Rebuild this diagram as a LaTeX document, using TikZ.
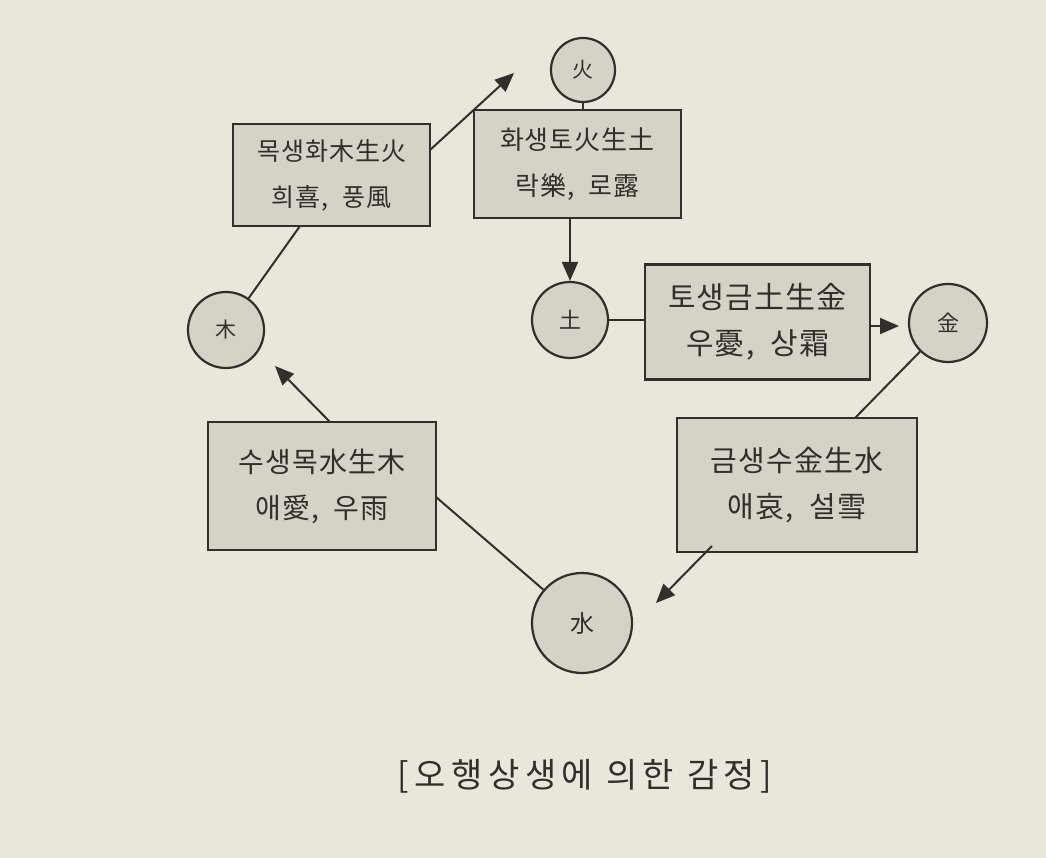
\documentclass[tikz,border=0pt]{standalone}
\usepackage{fontspec}
\setmainfont{Noto Sans CJK KR}
\usetikzlibrary{arrows.meta}
\definecolor{paper}{RGB}{234,230,220}
\definecolor{boxfill}{RGB}{215,210,200}
\definecolor{ink}{RGB}{52,46,42}
\tikzset{
  elem/.style={circle,draw=ink,fill=boxfill,line width=2.2pt,inner sep=0pt,text=ink},
  relbox/.style={draw=ink,fill=boxfill,line width=2.2pt,inner sep=0pt,text=ink,align=center},
  link/.style={draw=ink,line width=2pt},
  arr/.style={draw=ink,line width=2pt,-{Triangle[length=19pt,width=16pt]}}
}
\newcommand{\bfs}[1]{\fontsize{#1}{46}\selectfont\addfontfeature{LetterSpace=4}}
\begin{document}
\begin{tikzpicture}[x=1pt,y=-1pt]
\fill[paper] (0,0) rectangle (1046,858);
\useasboundingbox (0,0) rectangle (1046,858);
% circles
\node[elem,minimum size=64pt,font=\fontsize{21}{21}\selectfont] (fire) at (583,70) {火};
\node[elem,minimum size=76pt,font=\fontsize{21}{21}\selectfont] (wood) at (226,330) {木};
\node[elem,minimum size=76pt,font=\fontsize{22}{22}\selectfont] (earth) at (570,320) {土};
\node[elem,minimum size=78pt,font=\fontsize{22}{22}\selectfont] (metal) at (948,323) {金};
\node[elem,minimum size=100pt,font=\fontsize{24}{24}\selectfont] (water) at (582,623) {水};
% boxes
\node[relbox,minimum width=197pt,minimum height=102pt,font=\bfs{25}] (b1) at (331.5,175) {목생화木生火\\희喜,\ \ 풍風};
\node[relbox,minimum width=207pt,minimum height=108pt,font=\bfs{26}] (b2) at (577.5,164) {화생토火生土\\락樂,\ \ 로露};
\node[relbox,minimum width=225pt,minimum height=115pt,font=\bfs{30}] (b3) at (757.5,322) {토생금土生金\\우憂,\ \ 상霜};
\node[relbox,minimum width=240pt,minimum height=134pt,font=\bfs{29}] (b4) at (797,485) {금생수金生水\\애哀,\ \ 설雪};
\node[relbox,minimum width=228pt,minimum height=128pt,font=\bfs{28}] (b5) at (322,486) {수생목水生木\\애愛,\ \ 우雨};
% coordinates
\coordinate (b1top) at (430,150);
\coordinate (b1bot) at (300,226);
\coordinate (firetip) at (514,73);
\coordinate (b4bot) at (712,546);
\coordinate (watertip) at (656,603);
\coordinate (b4top) at (855,418);
\coordinate (b5top) at (330,422);
\coordinate (woodtip) at (275,366);
\coordinate (metaltip) at (899,326);
\coordinate (b5right) at (436,497);
% connectors
\draw[link] (wood) -- (b1bot);
\draw[arr] (b1top) -- (firetip);
\draw[link] (fire) -- (b2.north -| fire);
\draw[arr] (b2.south -| earth) -- (earth.north);
\draw[link] (earth) -- (b3.west |- earth);
\draw[arr] (b3.east |- metaltip) -- (metaltip);
\draw[link] (metal) -- (b4top);
\draw[arr] (b4bot) -- (watertip);
\draw[link] (water) -- (b5right);
\draw[arr] (b5top) -- (woodtip);
% caption
\node[text=ink,font=\fontsize{34}{34}\selectfont\addfontfeature{LetterSpace=16}] (cap) at (585,776) {[오행상생에 의한 감정]};
\end{tikzpicture}
\end{document}
